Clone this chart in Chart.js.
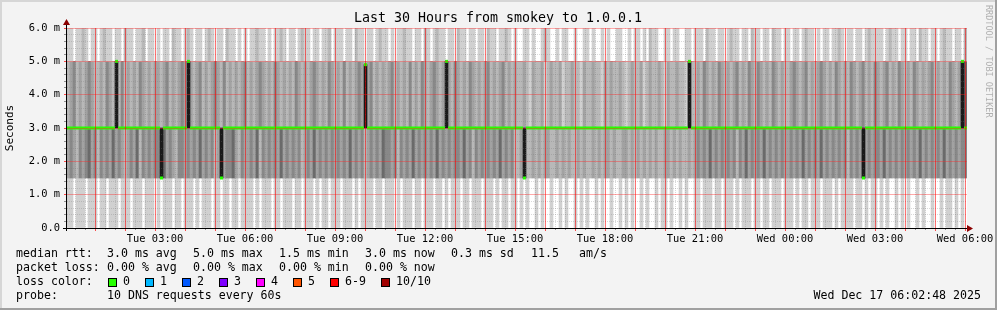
<!DOCTYPE html>
<html>
<head>
<meta charset="utf-8">
<script src="https://cdn.jsdelivr.net/npm/chart.js@4.4.1/dist/chart.umd.min.js"></script>
<style>
html,body{margin:0;padding:0;background:#f3f3f3}
canvas{display:block}
</style>
</head>
<body>
<canvas id="chart" width="997" height="310"></canvas>
<script>

// columns: 6 min each, first one starts 00:04 Tue (minutes after Tue 00:00)
const startMin = 4
const stepMin = 6

// smoke shade per column, one digit per column (0 = none, 5 = darkest)
// 5.0 - 6.0 ms
const shadeTop = [
"1101121011 0121101102 1101120110",
"1011021101 2101101210 1102110101",
"0112110101 1210110121 1011011201",
"1101102110 1101211010 1121101102",
"1012110110 2110110110 2110112101",
"0011010012 1001011001 0011010010",
"1001100101 1010211001 1011001101",
"1102110110 1211011021 1011021101",
"1011012110 1011011210 1101101211",
"1101211011 0110211011 0121101102"
]
// 3.0 - 5.0 ms
const shadeUpper = [
"2342323432 2324323242 3232432323",
"3234232343 2323423234 3242323234",
"2323432324 3232324323 2343232432",
"3242323432 3423232342 3232423243",
"2343232324 3232432323 4232342323",
"2232132231 2322312232 2132232213",
"2322321232 2312322321 3223221322",
"3243232432 3234232432 4323243232",
"2343234232 3432324323 2432342324",
"3234232432 3243232342 3232432345"
]
// 1.5 - 3.0 ms
const shadeLower = [
"3432434534 2434353432 3435243434",
"4353432443 4343534342 3434453243",
"3435243434 3534343423 4353434343",
"4343534342 3434354434 2434353434",
"3435343434 4353424343 4343534342",
"2332232323 3223232322 3232232323",
"3232233232 3232323223 3232322323",
"4343534343 4342435343 4353434343",
"3434353434 3534343434 2434353434",
"4353434343 4343534343 4353434344"
]
// 0 - 1.5 ms
const shadeBottom = [
"1101110111 0110111011 1011101110",
"1011101101 1101011101 1011011011",
"1101011101 1011101101 1101011011",
"1011101011 1101101110 1011101101",
"1101101011 1011011101 1101011011",
"0101001010 0100101001 0101001010",
"0100101010 0101001011 0100101001",
"1011101101 1101011101 1011011101",
"1101011011 1011101011 1101101011",
"0101001010 1001010010 0101101010"
]
const bandEdges = [0, 1.5, 3.0, 5.0, 6.0]

// median rtt (ms): 3.0 except these columns
const medianBase = 3.0
const medianCols = [16, 31, 40, 51, 99, 126, 152, 207, 265, 298]
const medianVals = [5.0, 1.5, 5.0, 1.5, 4.9, 5.0, 1.5, 5.0, 1.5, 5.0]

const xLabelMin = [180, 360, 540, 720, 900, 1080, 1260, 1440, 1620, 1800]
const xLabels = ["Tue 03:00", "Tue 06:00", "Tue 09:00", "Tue 12:00", "Tue 15:00",
  "Tue 18:00", "Tue 21:00", "Wed 00:00", "Wed 03:00", "Wed 06:00"]

const lossLabels = ["0", "1", "2", "3", "4", "5", "6-9", "10/10"]
const lossColors = ["#26ff00", "#00b8ff", "#0059ff", "#7e00ff", "#ff00ff", "#ff5500", "#ff0000", "#a10000"]


const greys = ["rgba(0,0,0,0)", "#d0d0d0", "#b8b8b8", "#a2a2a2", "#888888", "#6a6a6a"]
const green = "#26ff00"
const mono = "DejaVu Sans Mono"

function levels(blocks){
  return blocks.join("").replace(/ /g, "").split("").map(Number)
}

function smoke(blocks, lo, hi){
  const lv = levels(blocks)
  return {
    type: "bar",
    order: 3,
    grouped: false,
    barThickness: 3,
    data: lv.map((l, i) => ({ x: startMin + stepMin * i + stepMin / 2, y: [lo, hi] })),
    backgroundColor: lv.map(l => greys[l] || greys[0])
  }
}

const nCols = levels(shadeTop).length
const endMin = startMin + stepMin * nCols

// median as a flat step per column
const medianPts = []
for (let i = 0; i < nCols; i++) {
  const k = medianCols.indexOf(i)
  const v = k < 0 ? medianBase : medianVals[k]
  medianPts.push({ x: startMin + stepMin * i, y: v }, { x: startMin + stepMin * (i + 1), y: v })
}

const datasets = [
  {
    type: "line",
    order: 0,
    data: medianPts,
    borderColor: green,
    borderWidth: 3,
    pointRadius: 0,
    segment: { borderColor: c => c.p0.parsed.y === c.p1.parsed.y ? green : "rgba(0,0,0,0)" }
  },
  {
    type: "bar",
    order: 1,
    grouped: false,
    barThickness: 3,
    data: medianCols.map((c, k) => ({ x: startMin + stepMin * c + stepMin / 2, y: [medianBase, medianVals[k]] })),
    backgroundColor: "#1a1a1a"
  },
  smoke(shadeTop, bandEdges[3], bandEdges[4]),
  smoke(shadeUpper, bandEdges[2], bandEdges[3]),
  smoke(shadeLower, bandEdges[1], bandEdges[2]),
  smoke(shadeBottom, bandEdges[0], bandEdges[1])
]

const majorGrid = "rgba(255,40,40,0.4)"
const hourGrid = "rgba(255,0,0,0.55)"
const minorGrid = "rgba(120,120,120,0.28)"

function isMajorY(c){ return !!c.tick && Math.round(c.tick.value * 5) % 5 === 0 }

const decor = {
  id: "decor",
  beforeDraw(chart){
    const { ctx, chartArea: a } = chart
    ctx.save()
    ctx.fillStyle = "#f3f3f3"
    ctx.fillRect(0, 0, chart.width, chart.height)
    ctx.fillStyle = "#ffffff"
    ctx.fillRect(a.left, a.top, a.right - a.left, a.bottom - a.top)
    ctx.restore()
  },
  afterDraw(chart){
    const { ctx, chartArea: a } = chart
    ctx.save()

    // axes
    ctx.strokeStyle = "#000"
    ctx.lineWidth = 1
    ctx.beginPath()
    ctx.moveTo(a.left - 4, a.bottom + 0.5)
    ctx.lineTo(a.right + 1, a.bottom + 0.5)
    ctx.moveTo(a.left - 0.5, a.bottom + 3)
    ctx.lineTo(a.left - 0.5, a.top - 4)
    ctx.stroke()
    ctx.fillStyle = "#8b0000"
    ctx.beginPath()
    ctx.moveTo(a.left - 4, a.top - 3)
    ctx.lineTo(a.left + 3, a.top - 3)
    ctx.lineTo(a.left - 0.5, a.top - 9)
    ctx.closePath()
    ctx.fill()
    ctx.beginPath()
    ctx.moveTo(a.right, a.bottom - 3)
    ctx.lineTo(a.right, a.bottom + 4)
    ctx.lineTo(a.right + 6, a.bottom + 0.5)
    ctx.closePath()
    ctx.fill()

    // title
    ctx.fillStyle = "#000"
    ctx.textBaseline = "middle"
    ctx.textAlign = "center"
    ctx.font = "13.3px " + mono
    ctx.fillText("Last 30 Hours from smokey to 1.0.0.1", 498, 19)

    // legend
    ctx.textAlign = "left"
    ctx.font = "11.6px " + mono
    const rows = [254, 268, 282, 296]
    ctx.fillText("median rtt:", 16, rows[0])
    const rtt = ["3.0 ms avg", "5.0 ms max", "1.5 ms min", "3.0 ms now", "0.3 ms sd"]
    rtt.forEach((t, i) => ctx.fillText(t, 107 + 86 * i, rows[0]))
    ctx.fillText("11.5", 531, rows[0])
    ctx.fillText("am/s", 579, rows[0])
    ctx.fillText("packet loss:", 16, rows[1])
    const loss = ["0.00 % avg", "0.00 % max", "0.00 % min", "0.00 % now"]
    loss.forEach((t, i) => ctx.fillText(t, 107 + 86 * i, rows[1]))
    ctx.fillText("loss color:", 16, rows[2])
    const sx = [108, 145, 182, 219, 256, 293, 330, 381]
    lossLabels.forEach((t, i) => {
      ctx.fillStyle = lossColors[i]
      ctx.fillRect(sx[i], 278, 9, 9)
      ctx.strokeStyle = "#000"
      ctx.strokeRect(sx[i] + 0.5, 278.5, 8, 8)
      ctx.fillStyle = "#000"
      ctx.fillText(t, sx[i] + 15, rows[2])
    })
    ctx.fillText("probe:", 16, rows[3])
    ctx.fillText("10 DNS requests every 60s", 107, rows[3])
    ctx.textAlign = "right"
    ctx.fillText("Wed Dec 17 06:02:48 2025", 981, rows[3])

    // side credit
    ctx.save()
    ctx.translate(988, 5)
    ctx.rotate(Math.PI / 2)
    ctx.textAlign = "left"
    ctx.fillStyle = "#b0b0b0"
    ctx.font = "8.5px " + mono
    ctx.fillText("RRDTOOL / TOBI OETIKER", 0, 0)
    ctx.restore()

    // frame
    ctx.fillStyle = "#d6d6d6"
    ctx.fillRect(0, 0, chart.width, 2)
    ctx.fillRect(0, 0, 2, chart.height)
    ctx.fillStyle = "#a0a0a0"
    ctx.fillRect(0, chart.height - 2, chart.width, 2)
    ctx.fillRect(chart.width - 2, 0, 2, chart.height)
    ctx.restore()
  }
}

new Chart(document.getElementById("chart"), {
  type: "bar",
  data: { datasets: datasets },
  plugins: [decor],
  options: {
    responsive: false,
    animation: false,
    devicePixelRatio: 1,
    layout: { padding: { top: 28, right: 30, bottom: 0, left: 0 } },
    plugins: { legend: { display: false }, title: { display: false }, tooltip: { enabled: false } },
    scales: {
      // minor time grid every 20 min
      x: {
        type: "linear",
        position: "bottom",
        offset: false,
        min: startMin,
        max: endMin,
        afterBuildTicks: s => {
          const t = []
          for (let m = 20; m <= 1800; m += 20) if (m % 60 !== 0) t.push({ value: m })
          s.ticks = t
        },
        afterFit: s => { s.height = 0 },
        grid: {
          z: 1,
          offset: false,
          color: minorGrid,
          tickColor: "rgba(80,80,80,0.6)",
          tickLength: 2
        },
        border: { display: false, dash: [1, 1] },
        ticks: { display: false }
      },
      // hour grid and labels
      xHour: {
        type: "linear",
        position: "bottom",
        offset: false,
        min: startMin,
        max: endMin,
        afterBuildTicks: s => {
          const t = []
          for (let m = 60; m <= 1800; m += 60) t.push({ value: m })
          s.ticks = t
        },
        afterFit: s => { s.height = 82 },
        grid: {
          z: 2,
          offset: false,
          color: hourGrid,
          tickColor: "rgba(255,0,0,0.7)",
          tickLength: 3
        },
        border: { display: false, dash: [] },
        ticks: {
          autoSkip: false,
          maxRotation: 0,
          minRotation: 0,
          padding: 2,
          color: "#000",
          font: { family: mono, size: 10.4 },
          callback: v => {
            const k = xLabelMin.indexOf(v)
            return k < 0 ? "" : xLabels[k]
          }
        }
      },
      y: {
        min: 0,
        max: 6,
        afterBuildTicks: s => {
          const t = []
          for (let k = 0; k <= 30; k++) t.push({ value: k / 5 })
          s.ticks = t
        },
        afterFit: s => { s.width = 67 },
        grid: {
          z: 1,
          color: c => isMajorY(c) ? majorGrid : minorGrid,
          tickColor: c => isMajorY(c) ? "rgba(255,0,0,0.7)" : "rgba(80,80,80,0.6)",
          tickLength: 3
        },
        border: { display: false, dash: c => isMajorY(c) ? [] : [1, 1] },
        title: {
          display: true,
          text: "Seconds",
          color: "#000",
          font: { family: mono, size: 11 },
          padding: { top: 4, bottom: 0 }
        },
        ticks: {
          autoSkip: false,
          padding: 4,
          color: "#000",
          font: { family: mono, size: 10.4 },
          callback: v => {
            const k = Math.round(v * 5)
            if (k % 5 !== 0) return ""
            return k === 0 ? "0.0" : (k / 5).toFixed(1) + " m"
          }
        }
      }
    }
  }
})
</script>
</body>
</html>
